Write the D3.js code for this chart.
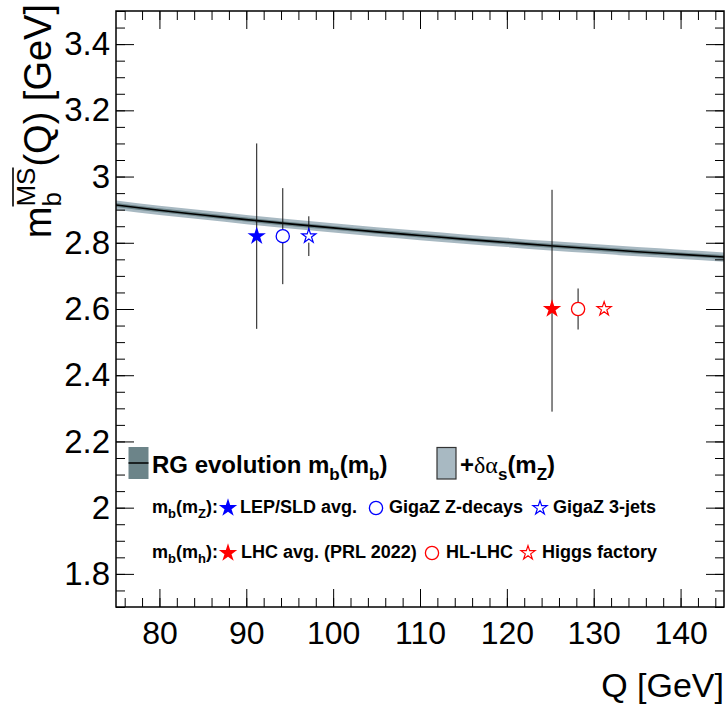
<!DOCTYPE html>
<html><head><meta charset="utf-8">
<script src="https://cdn.jsdelivr.net/npm/d3@7"></script>
<style>
body{margin:0;background:#fff}
text{font-family:"Liberation Sans",Arial,Helvetica,sans-serif;fill:#000}
</style>
</head><body>
<svg id="c" width="728" height="706"></svg>
<script>
// ---------- data ----------
const xDomain = [75, 145];
const yDomain = [1.7, 3.5];
const xTicks = [80, 90, 100, 110, 120, 130, 140];
const xTickLabels = ["80", "90", "100", "110", "120", "130", "140"];
const yTicks = [1.8, 2.0, 2.2, 2.4, 2.6, 2.8, 3.0, 3.2, 3.4];
const yTickLabels = ["1.8", "2", "2.2", "2.4", "2.6", "2.8", "3", "3.2", "3.4"];

// RG evolution of m_b(Q) (central curve)
const curveQ = [75, 80, 85, 90, 95, 100, 105, 110, 115, 120, 125, 130, 135, 140, 145];
const curveM = [2.914, 2.898, 2.884, 2.870, 2.857, 2.845, 2.833, 2.822, 2.811, 2.801, 2.791, 2.782, 2.773, 2.765, 2.757];
const rgErr = [0.006, 0.006, 0.006, 0.006, 0.006, 0.006, 0.006, 0.006, 0.006, 0.006, 0.006, 0.006, 0.006, 0.006, 0.006];
const alphaErr = [0.014, 0.014, 0.014, 0.014, 0.014, 0.014, 0.014, 0.014, 0.014, 0.014, 0.014, 0.014, 0.014, 0.014, 0.014];

// measurements / projections
const ptNames = ["LEP/SLD avg.", "GigaZ Z-decays", "GigaZ 3-jets", "LHC avg. (PRL 2022)", "HL-LHC", "Higgs factory"];
const ptQ = [91.2, 94.2, 97.2, 125.2, 128.2, 131.2];
const ptM = [2.82, 2.82, 2.82, 2.60, 2.60, 2.60];
const ptErrUp = [0.28, 0.145, 0.06, 0.36, 0.062, 0.0];
const ptErrDn = [0.28, 0.145, 0.06, 0.31, 0.062, 0.0];
const ptMarker = ["fstar", "ocircle", "ostar", "fstar", "ocircle", "ostar"];
const ptColor = ["#0000ff", "#0000ff", "#0000ff", "#ff0000", "#ff0000", "#ff0000"];

// ---------- layout ----------
const L = 116, R = 724, T = 11, B = 607;
const svg = d3.select("#c");
const x = d3.scaleLinear().domain(xDomain).range([L, R]);
const y = d3.scaleLinear().domain(yDomain).range([B, T]);

const outerCol = "#a8b9c2", innerCol = "#6c8489";

// clip
svg.append("clipPath").attr("id", "clip").append("rect")
  .attr("x", L).attr("y", T).attr("width", R - L).attr("height", B - T);
const plot = svg.append("g").attr("clip-path", "url(#clip)");

const idx = d3.range(curveQ.length);
plot.append("path").datum(idx)
  .attr("d", d3.area().x(i => x(curveQ[i])).y0(i => y(curveM[i] - alphaErr[i])).y1(i => y(curveM[i] + alphaErr[i])).curve(d3.curveMonotoneX))
  .attr("fill", outerCol);
plot.append("path").datum(idx)
  .attr("d", d3.area().x(i => x(curveQ[i])).y0(i => y(curveM[i] - rgErr[i])).y1(i => y(curveM[i] + rgErr[i])).curve(d3.curveMonotoneX))
  .attr("fill", innerCol);
plot.append("path").datum(idx)
  .attr("d", d3.line().x(i => x(curveQ[i])).y(i => y(curveM[i])).curve(d3.curveMonotoneX))
  .attr("fill", "none").attr("stroke", "#000").attr("stroke-width", 1.6);

// marker drawing
function marker(g, type, cx, cy, col, scale) {
  scale = scale || 1;
  if (type === "fstar") {
    g.append("path").attr("d", d3.symbol(d3.symbolStar).size(105 * scale)())
      .attr("transform", `translate(${cx},${cy})`).attr("fill", col);
  } else if (type === "ostar") {
    g.append("path").attr("d", d3.symbol(d3.symbolStar).size(62 * scale)())
      .attr("transform", `translate(${cx},${cy})`).attr("fill", "none").attr("stroke", col).attr("stroke-width", 1.2);
  } else {
    g.append("circle").attr("cx", cx).attr("cy", cy).attr("r", 6.6 * Math.sqrt(scale))
      .attr("fill", "none").attr("stroke", col).attr("stroke-width", 1.3);
  }
}
const gapR = {fstar: 0, ocircle: 6.6, ostar: 6.5};

const pts = svg.append("g");
ptQ.forEach((q, i) => {
  const cx = x(q), cy = y(ptM[i]);
  const g = gapR[ptMarker[i]];
  if (ptErrUp[i] > 0) {
    pts.append("line").attr("x1", cx).attr("x2", cx).attr("y1", y(ptM[i] + ptErrUp[i])).attr("y2", cy - g)
      .attr("stroke", "#111").attr("stroke-width", 1);
    pts.append("line").attr("x1", cx).attr("x2", cx).attr("y1", cy + g).attr("y2", y(ptM[i] - ptErrDn[i]))
      .attr("stroke", "#111").attr("stroke-width", 1);
  }
  marker(pts, ptMarker[i], cx, cy, ptColor[i]);
});

// ---------- axes ----------
function clean(g) { g.select(".domain").remove(); g.selectAll("line").attr("stroke", "#000").attr("stroke-width", 1); }
const xMinor = d3.range(76, 145, 2);
const yMinor = d3.range(0, 37).map(k => +(1.7 + k * 0.05).toFixed(2));

const ax = svg.append("g").attr("transform", `translate(0,${B})`)
  .call(d3.axisBottom(x).tickValues(xTicks).tickFormat((d, i) => xTickLabels[i]).tickSize(-18).tickPadding(14));
ax.call(clean);
ax.selectAll("text").attr("font-size", 32).attr("font-family", "Liberation Sans, Arial, sans-serif");
svg.append("g").attr("transform", `translate(0,${B})`)
  .call(d3.axisBottom(x).tickValues(xMinor).tickFormat("").tickSize(-9)).call(clean);
svg.append("g").attr("transform", `translate(0,${T})`)
  .call(d3.axisTop(x).tickValues(xTicks).tickFormat("").tickSize(-18)).call(clean);
svg.append("g").attr("transform", `translate(0,${T})`)
  .call(d3.axisTop(x).tickValues(xMinor).tickFormat("").tickSize(-9)).call(clean);

const ay = svg.append("g").attr("transform", `translate(${L},0)`)
  .call(d3.axisLeft(y).tickValues(yTicks).tickFormat((d, i) => yTickLabels[i]).tickSize(-18).tickPadding(6));
ay.call(clean);
ay.selectAll("text").attr("font-size", 33).attr("font-family", "Liberation Sans, Arial, sans-serif");
svg.append("g").attr("transform", `translate(${L},0)`)
  .call(d3.axisLeft(y).tickValues(yMinor).tickFormat("").tickSize(-9)).call(clean);
svg.append("g").attr("transform", `translate(${R},0)`)
  .call(d3.axisRight(y).tickValues(yTicks).tickFormat("").tickSize(-18)).call(clean);
svg.append("g").attr("transform", `translate(${R},0)`)
  .call(d3.axisRight(y).tickValues(yMinor).tickFormat("").tickSize(-9)).call(clean);

svg.append("rect").attr("x", L).attr("y", T).attr("width", R - L).attr("height", B - T)
  .attr("fill", "none").attr("stroke", "#000").attr("stroke-width", 1.5);

// axis titles
svg.append("text").attr("x", 724).attr("y", 697).attr("text-anchor", "end")
  .attr("font-size", 34).text("Q [GeV]");

(function yTitle() {
  const fs = 38, sfs = 26;
  const g = svg.append("g").attr("transform", "translate(51,4) rotate(-90)");
  const tmp = g.append("text").attr("font-size", fs);
  const wm = (tmp.text("m"), tmp.node().getComputedTextLength());
  tmp.attr("font-size", sfs);
  const wb = (tmp.text("b"), tmp.node().getComputedTextLength());
  const wMS = (tmp.text("MS"), tmp.node().getComputedTextLength());
  tmp.attr("font-size", fs);
  const rest = "(Q) [GeV]";
  const wr = (tmp.text(rest), tmp.node().getComputedTextLength());
  tmp.remove();
  const total = wm + Math.max(wb, wMS) + 1 + wr;
  let x0 = -total;
  g.append("text").attr("x", x0).attr("y", 0).attr("font-size", fs).text("m");
  const xs = x0 + wm;
  g.append("text").attr("x", xs).attr("y", 10).attr("font-size", sfs).text("b");
  g.append("text").attr("x", xs).attr("y", -16).attr("font-size", sfs).text("MS");
  g.append("line").attr("x1", xs).attr("x2", xs + wMS).attr("y1", -38).attr("y2", -38)
    .attr("stroke", "#000").attr("stroke-width", 1.6);
  g.append("text").attr("x", xs + Math.max(wb, wMS) + 1).attr("y", 0).attr("font-size", fs).text(rest);
})();

// ---------- legend ----------
const leg = svg.append("g");
leg.append("rect").attr("x", 128.5).attr("y", 447).attr("width", 20).attr("height", 32).attr("fill", innerCol);
leg.append("line").attr("x1", 128.5).attr("x2", 148.5).attr("y1", 463).attr("y2", 463).attr("stroke", "#000").attr("stroke-width", 1.5);
leg.append("rect").attr("x", 437).attr("y", 447.5).attr("width", 19).attr("height", 31.5).attr("fill", outerCol)
  .attr("stroke", "#333").attr("stroke-width", 1.2);

function rich(xp, yp, parts, fs) {
  const t = leg.append("text").attr("x", xp).attr("y", yp).attr("font-weight", "bold").attr("font-size", fs);
  let shift = 0;
  parts.forEach(p => {
    const s = p.sub ? Math.round(fs * 0.3) : 0;
    const ts = t.append("tspan").attr("dy", s - shift).text(p.t)
      .attr("font-size", p.sub ? Math.round(fs * 0.72) : fs);
    if (p.greek) ts.attr("font-weight", "normal").attr("font-family", "Liberation Serif, Times New Roman, serif");
    shift = s;
  });
  return t;
}
rich(152, 473, [{t: "RG evolution m"}, {t: "b", sub: 1}, {t: "(m"}, {t: "b", sub: 1}, {t: ")"}], 24);
rich(460, 473, [{t: "+"}, {t: "δα", greek: 1}, {t: "s", sub: 1}, {t: "(m"}, {t: "Z", sub: 1}, {t: ")"}], 24);

const rowY = [513, 558];
const rowLab = [[{t: "m"}, {t: "b", sub: 1}, {t: "(m"}, {t: "Z", sub: 1}, {t: "):"}],
                [{t: "m"}, {t: "b", sub: 1}, {t: "(m"}, {t: "h", sub: 1}, {t: "):"}]];
rowLab.forEach((p, r) => rich(152, rowY[r], p, 18));
const legMarkX = [228, 376, 540, 228, 432, 528];
const legTextX = [240, 389, 553, 241, 446, 542];
ptNames.forEach((n, i) => {
  const r = i < 3 ? 0 : 1;
  marker(leg, ptMarker[i], legMarkX[i], rowY[r] - 5, ptColor[i]);
  leg.append("text").attr("x", legTextX[i]).attr("y", rowY[r]).attr("font-weight", "bold").attr("font-size", 18).text(n);
});
</script>
</body></html>
